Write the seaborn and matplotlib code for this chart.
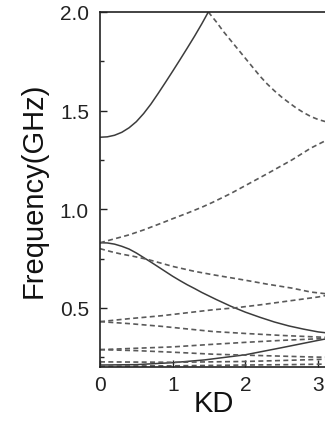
import matplotlib
matplotlib.use("Agg")
import matplotlib.pyplot as plt
import seaborn as sns
import numpy as np
from matplotlib.ticker import MultipleLocator

# ---- data ----
kd_top_solid = [0.0, 0.1, 0.2, 0.3, 0.4, 0.5, 0.6, 0.7, 0.8, 0.9, 1.0, 1.1, 1.2, 1.3, 1.4, 1.49]
f_top_solid = [1.365, 1.367, 1.375, 1.39, 1.413, 1.444, 1.485, 1.533, 1.587, 1.643, 1.70,
               1.758, 1.817, 1.877, 1.94, 2.0]

kd_top_dash = [1.49, 1.6, 1.7, 1.8, 1.9, 2.0, 2.1, 2.2, 2.3, 2.4, 2.5, 2.6, 2.7, 2.8, 2.9, 3.0, 3.1416]
f_top_dash = [2.0, 1.95, 1.90, 1.855, 1.81, 1.765, 1.72, 1.675, 1.635, 1.60, 1.568, 1.54,
              1.513, 1.49, 1.47, 1.455, 1.44]

kd_a = [0.0, 0.2, 0.4, 0.6, 0.85, 1.0, 1.2, 1.4, 1.55, 1.8, 2.0, 2.3, 2.64, 2.9, 3.1416]
f_rise_083 = [0.83, 0.85, 0.87, 0.895, 0.93, 0.952, 0.98, 1.01, 1.035, 1.08, 1.12, 1.18,
              1.25, 1.31, 1.355]

kd_b = [0.0, 0.1, 0.2, 0.3, 0.4, 0.5, 0.6, 0.7, 0.8, 0.9, 1.0, 1.1, 1.2, 1.3, 1.4, 1.5,
        1.6, 1.7, 1.8, 1.9, 2.0, 2.2, 2.4, 2.6, 2.8, 3.0, 3.1416]
f_solid_083 = [0.83, 0.829, 0.823, 0.812, 0.798, 0.778, 0.755, 0.732, 0.708, 0.684, 0.66,
               0.638, 0.617, 0.598, 0.578, 0.56, 0.542, 0.525, 0.508, 0.493, 0.478,
               0.452, 0.428, 0.408, 0.392, 0.378, 0.372]

kd_c = [0.0, 0.15, 0.3, 0.45, 0.66, 1.0, 1.3, 1.55, 2.0, 2.3, 2.64, 2.9, 3.1416]
f_fall_081 = [0.80, 0.785, 0.772, 0.762, 0.745, 0.71, 0.685, 0.668, 0.64, 0.62, 0.60, 0.58, 0.57]

kd_d = [0.0, 0.4, 0.85, 1.2, 1.55, 1.86, 2.2, 2.6, 3.0, 3.1416]
f_rise_043 = [0.43, 0.445, 0.46, 0.475, 0.49, 0.50, 0.515, 0.535, 0.555, 0.565]

kd_e = [0.0, 0.4, 0.85, 1.2, 1.55, 2.0, 2.5, 3.0, 3.1416]
f_fall_043 = [0.43, 0.42, 0.406, 0.393, 0.38, 0.37, 0.36, 0.352, 0.35]

kd_f = [0.0, 0.5, 1.0, 1.55, 2.0, 2.5, 3.0, 3.1416]
f_rise_029 = [0.288, 0.295, 0.302, 0.315, 0.325, 0.335, 0.343, 0.345]
f_fall_029 = [0.288, 0.283, 0.275, 0.265, 0.26, 0.255, 0.25, 0.25]

kd_g = [0.0, 0.5, 1.0, 1.44, 2.0, 2.5, 3.0, 3.1416]
f_solid_021 = [0.21, 0.212, 0.222, 0.236, 0.262, 0.298, 0.335, 0.345]

kd_h = [0.0, 1.0, 2.0, 2.6, 3.1416]
f_low_a = [0.226, 0.224, 0.228, 0.234, 0.24]
f_low_b = [0.205, 0.206, 0.21, 0.212, 0.215]

solid_bands = [(kd_top_solid, f_top_solid), (kd_b, f_solid_083), (kd_g, f_solid_021)]
dashed_bands = [(kd_top_dash, f_top_dash), (kd_a, f_rise_083), (kd_c, f_fall_081),
                (kd_d, f_rise_043), (kd_e, f_fall_043), (kd_f, f_rise_029),
                (kd_f, f_fall_029), (kd_h, f_low_a), (kd_h, f_low_b)]

# ---- style ----
sns.set_style("ticks")
plt.rcParams['font.family'] = ['Liberation Sans', 'DejaVu Sans']

fig = plt.figure(figsize=(3.25, 4.27), dpi=100)
ax = fig.add_axes([100 / 325, 59 / 427, 228.4 / 325, 355 / 427])

for x, y in solid_bands:
    sns.lineplot(x=x, y=y, ax=ax, color="#3c3c3c", linewidth=1.1, estimator=None,
                 sort=False)
for x, y in dashed_bands:
    sns.lineplot(x=x, y=y, ax=ax, color="#5a5a5a", linewidth=1.2, estimator=None,
                 sort=False, linestyle=(0, (3, 2)))

ax.set_xlim(0, np.pi)
ax.set_ylim(0.2, 2.0)
ax.set_xticks([0, 1, 2, 3])
ax.set_yticks([0.5, 1.0, 1.5, 2.0])
ax.set_yticklabels(["0.5", "1.0", "1.5", "2.0"])
ax.yaxis.set_minor_locator(MultipleLocator(0.25))

ax.tick_params(which="major", direction="in", length=5, width=1.0,
               labelsize=15, colors="#222222", pad=6)
ax.tick_params(which="minor", direction="in", length=3, width=1.0)
ax.tick_params(axis="y", which="major", pad=8)

for side in ["left", "bottom", "top", "right"]:
    ax.spines[side].set_visible(True)
    ax.spines[side].set_linewidth(1.2)
    ax.spines[side].set_color("#222222")

ax.set_xlabel("KD", fontsize=21, color="#111111", labelpad=-4)
ax.set_ylabel("Frequency(GHz)", fontsize=21, color="#111111", labelpad=9)

fig.savefig("out.png", dpi=100)
